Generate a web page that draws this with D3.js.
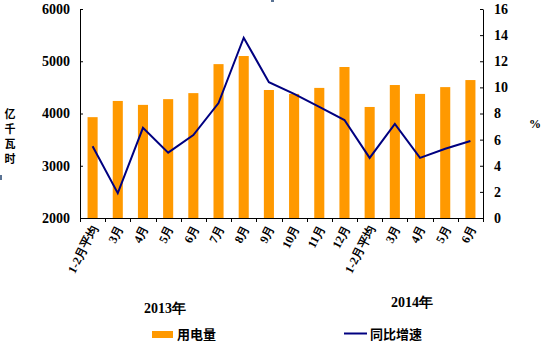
<!DOCTYPE html>
<html>
<head>
<meta charset="utf-8">
<script src="https://cdn.jsdelivr.net/npm/d3@7"></script>
<style>
  body { margin: 0; background: #fff; }
  svg { display: block; }
</style>
</head>
<body>
<div id="container"></div>
<script>
let w = 543;
let h = 351;

// DATA
let categories = ["1-2月平均", "3月", "4月", "5月", "6月", "7月", "8月", "9月", "10月", "11月", "12月",
                  "1-2月平均", "3月", "4月", "5月", "6月"];
let power = [3930, 4240, 4165, 4275, 4390, 4945, 5100, 4450, 4375, 4490, 4890,
             4125, 4545, 4375, 4505, 4640];
let growth = [5.5, 1.9, 6.9, 5.0, 6.35, 8.8, 13.8, 10.4, 9.5, 8.5, 7.5,
              4.6, 7.2, 4.6, 5.3, 5.9];
let leftTicks = [2000, 3000, 4000, 5000, 6000];
let rightTicks = [0, 2, 4, 6, 8, 10, 12, 14, 16];
let years = ["2013年", "2014年"];

let plotL = 80, plotR = 483, plotT = 9, plotB = 218;

let viz = d3.select("#container").append("svg")
    .attr("width", w)
    .attr("height", h);

let idx = categories.map(function(d, i){ return i; });
let xScale = d3.scaleBand().domain(idx).range([plotL, plotR]).padding(0);
let yLeft = d3.scaleLinear().domain([2000, 6000]).range([plotB, plotT]);
let yRight = d3.scaleLinear().domain([0, 16]).range([plotB, plotT]);

let numFont = "'Liberation Serif', 'DejaVu Serif', serif";
let cjkFont = "'Noto Sans CJK SC', sans-serif";

// bars
let bw = xScale.bandwidth();
viz.selectAll(".bar").data(power).enter()
  .append("rect")
    .attr("class", "bar")
    .attr("x", function(d, i){ return xScale(i) + bw * 0.3; })
    .attr("width", bw * 0.4)
    .attr("y", function(d){ return yLeft(d); })
    .attr("height", function(d){ return plotB - yLeft(d); })
    .attr("fill", "#ff9900");

// line
let lineMaker = d3.line()
    .x(function(d, i){ return xScale(i) + bw / 2; })
    .y(function(d){ return yRight(d); });

viz.append("path")
  .datum(growth)
  .attr("d", lineMaker)
  .attr("fill", "none")
  .attr("stroke", "#000080")
  .attr("stroke-width", 2);

// axes
let axisLeft = d3.axisLeft(yLeft).tickValues(leftTicks).tickFormat(d3.format("d"))
    .tickSizeInner(-3).tickSizeOuter(0).tickPadding(10);
let gl = viz.append("g").attr("transform", "translate(" + plotL + ",0)").call(axisLeft);

let axisRight = d3.axisRight(yRight).tickValues(rightTicks).tickFormat(d3.format("d"))
    .tickSizeInner(-3).tickSizeOuter(0).tickPadding(11);
let gr = viz.append("g").attr("transform", "translate(" + plotR + ",0)").call(axisRight);

[gl, gr].forEach(function(g){
  g.select(".domain").attr("stroke", "#000");
  g.selectAll(".tick line").attr("stroke", "#000");
  g.selectAll("text")
    .attr("font-family", numFont)
    .attr("font-weight", "bold")
    .attr("font-size", 14)
    .attr("fill", "#000");
});

// bottom axis
viz.append("line")
  .attr("x1", plotL).attr("x2", plotR)
  .attr("y1", plotB + 0.5).attr("y2", plotB + 0.5)
  .attr("stroke", "#000");

let bounds = idx.map(function(i){ return xScale(i); }).concat([plotR]);
viz.selectAll(".xtick").data(bounds).enter()
  .append("line")
    .attr("class", "xtick")
    .attr("x1", function(d){ return Math.round(d) + 0.5; })
    .attr("x2", function(d){ return Math.round(d) + 0.5; })
    .attr("y1", plotB)
    .attr("y2", plotB + 4)
    .attr("stroke", "#000");

viz.selectAll(".xlabel").data(categories).enter()
  .append("text")
    .attr("class", "xlabel")
    .attr("transform", function(d, i){
      return "translate(" + (xScale(i) + bw / 2 + 2) + "," + (plotB + 8) + ") rotate(-63)";
    })
    .attr("text-anchor", "end")
    .attr("dy", "0.35em")
    .attr("font-family", numFont)
    .attr("font-weight", "bold")
    .attr("font-size", 12)
    .text(function(d){ return d; });

// years
viz.append("text")
  .attr("x", 165).attr("y", 313)
  .attr("text-anchor", "middle")
  .attr("font-family", numFont)
  .attr("font-weight", "bold")
  .attr("font-size", 14)
  .text(years[0]);

viz.append("text")
  .attr("x", 412).attr("y", 307)
  .attr("text-anchor", "middle")
  .attr("font-family", numFont)
  .attr("font-weight", "bold")
  .attr("font-size", 14)
  .text(years[1]);

// y axis title
let unit = "亿千瓦时".split("");
viz.selectAll(".unit").data(unit).enter()
  .append("text")
    .attr("class", "unit")
    .attr("x", 10)
    .attr("y", function(d, i){ return 118 + i * 15; })
    .attr("text-anchor", "middle")
    .attr("font-family", cjkFont)
    .attr("font-weight", "bold")
    .attr("font-size", 11)
    .text(function(d){ return d; });

viz.append("text")
  .attr("x", 535).attr("y", 128)
  .attr("text-anchor", "middle")
  .attr("font-family", numFont)
  .attr("font-weight", "bold")
  .attr("font-size", 12)
  .text("%");

// legend
viz.append("rect")
  .attr("x", 152).attr("y", 331)
  .attr("width", 21).attr("height", 7)
  .attr("fill", "#ff9900");
viz.append("text")
  .attr("x", 177).attr("y", 339)
  .attr("font-family", cjkFont)
  .attr("font-weight", "bold")
  .attr("font-size", 13)
  .text("用电量");

viz.append("line")
  .attr("x1", 344).attr("x2", 367)
  .attr("y1", 333.5).attr("y2", 333.5)
  .attr("stroke", "#000080")
  .attr("stroke-width", 2);
viz.append("text")
  .attr("x", 370).attr("y", 339)
  .attr("font-family", cjkFont)
  .attr("font-weight", "bold")
  .attr("font-size", 13)
  .text("同比增速");

// stray marks in the original
viz.append("rect").attr("x", 0).attr("y", 175).attr("width", 2).attr("height", 5).attr("fill", "#5a7394");
viz.append("rect").attr("x", 271).attr("y", 0).attr("width", 3).attr("height", 2).attr("fill", "#5a7394");
</script>
</body>
</html>
